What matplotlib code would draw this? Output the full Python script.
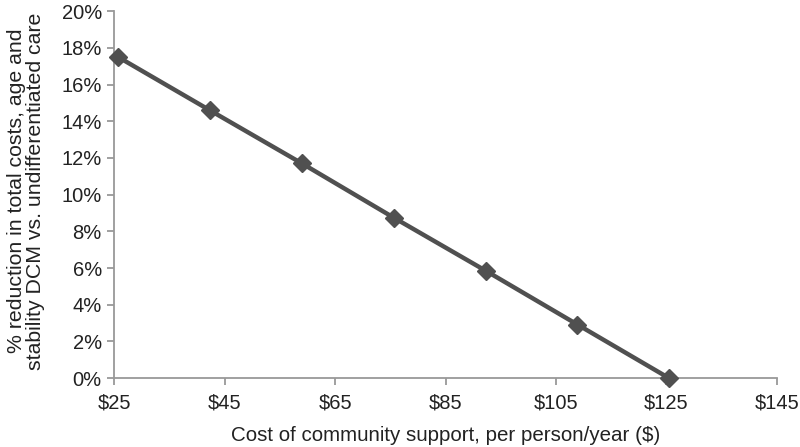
import matplotlib
matplotlib.use("Agg")
import matplotlib.pyplot as plt
from matplotlib.ticker import FuncFormatter

plt.rcParams['font.family'] = ['Liberation Sans', 'DejaVu Sans']

# cost of community support ($ per person/year) and % reduction
cost = [25.7, 42.3, 59.0, 75.6, 92.3, 108.9, 125.5]
reduction = [17.5, 14.6, 11.7, 8.75, 5.85, 2.92, 0.0]
x_ticks = [25, 45, 65, 85, 105, 125, 145]
y_ticks = [0, 2, 4, 6, 8, 10, 12, 14, 16, 18, 20]

fig = plt.figure(figsize=(8, 4.47), dpi=100)
ax = fig.add_axes([0.1429, 0.154, 0.828, 0.821])

ax.plot(cost, reduction, color='#505050', lw=3.2, marker='D', ms=9,
        markerfacecolor='#505050', markeredgecolor='#505050', clip_on=False, zorder=3)

ax.set_xlim(25, 145)
ax.set_ylim(0, 20)
ax.set_xticks(x_ticks)
ax.set_yticks(y_ticks)
ax.xaxis.set_major_formatter(FuncFormatter(lambda v, p: '$%d' % v))
ax.yaxis.set_major_formatter(FuncFormatter(lambda v, p: '%d%%' % v))

for s in ['top', 'right']:
    ax.spines[s].set_visible(False)
for s in ['left', 'bottom']:
    ax.spines[s].set_color('#999999')
    ax.spines[s].set_linewidth(1.3)
ax.tick_params(axis='both', colors='#999999', length=5, width=1.3, labelsize=14.5,
               labelcolor='#222222')
ax.tick_params(axis='y', pad=4)
ax.tick_params(axis='x', pad=6)

ax.set_xlabel('Cost of community support, per person/year ($)', fontsize=14.8, color='#222222', labelpad=10)
ax.set_ylabel('% reduction in total costs, age and\nstability DCM vs. undifferentiated care',
              fontsize=15.3, color='#222222', linespacing=1.0)
ax.yaxis.set_label_coords(-0.104, 0.51)

fig.savefig('out.png', dpi=100)
